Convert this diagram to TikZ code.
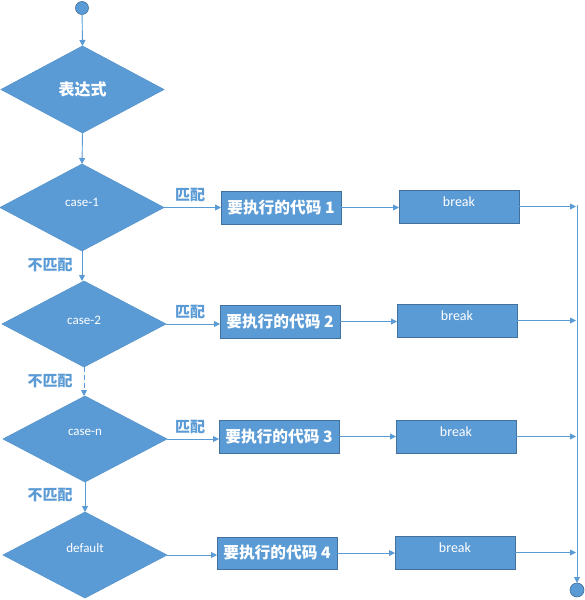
\documentclass[tikz,border=0pt]{standalone}
\usepackage{fontspec}
\setmainfont{Carlito}
\newfontfamily\cjk{Noto Sans CJK SC}
\usetikzlibrary{shapes.geometric,arrows.meta}
\definecolor{ofblue}{HTML}{5B9BD5}
\definecolor{ofedge}{HTML}{41719C}
\tikzset{
  decision/.style={diamond, fill=ofblue, draw=ofblue!85!ofedge, line width=0.6pt, inner sep=0pt, outer sep=0pt, minimum width=164pt, minimum height=86pt},
  codebox/.style={rectangle, fill=ofblue, draw=ofedge, line width=0.8pt, inner sep=0pt, outer sep=0pt, minimum width=120pt, minimum height=33pt, text=white, font=\cjk\bfseries\fontsize{15.7}{18}\selectfont},
  brkbox/.style={rectangle, fill=ofblue, draw=ofedge, line width=0.8pt, inner sep=0pt, outer sep=0pt, minimum width=120pt, minimum height=33pt},
  dtext/.style={text=white, font=\fontsize{13}{15}\selectfont, inner sep=0pt},
  btext/.style={text=white, font=\fontsize{14}{16}\selectfont, inner sep=0pt},
  term/.style={circle, fill=ofblue, draw=ofedge, line width=0.6pt, minimum size=13pt, inner sep=0pt, outer sep=0pt},
  lbl/.style={text=ofblue, font=\cjk\bfseries\fontsize{15}{17}\selectfont, inner sep=0pt},
  flow/.style={draw=ofblue, line width=0.9pt, -{Triangle[width=6pt,length=6pt]}},
  plain/.style={draw=ofblue, line width=0.9pt}
}
\begin{document}
\begin{tikzpicture}[x=1pt,y=-1pt]
\useasboundingbox[fill=white] (0,0) rectangle (585,600);
% nodes
\node[term] (start) at (82,8) {};
\node[decision, minimum width=163pt, minimum height=87pt, text=white, font=\cjk\bfseries\fontsize{16}{18}\selectfont] (expr) at (82.5,89.5) {表达式};
\node[decision, minimum height=87pt] (c1) at (82,207.5) {};
\node[decision] (c2) at (84,324) {};
\node[decision] (cn) at (85,439) {};
\node[decision] (df) at (85,555) {};
\node[dtext] (t1) at ([yshift=5pt]c1.center) {case-1};
\node[dtext] (t2) at ([yshift=4pt]c2.center) {case-2};
\node[dtext] (tn) at ([yshift=7pt]cn.center) {case-n};
\node[dtext] (td) at ([yshift=7pt]df.center) {default};

\node[codebox] (k1) at (281,207.5) {要执行的代码 1};
\node[codebox] (k2) at (280,321.5) {要执行的代码 2};
\node[codebox] (k3) at (279,436.5) {要执行的代码 3};
\node[codebox, minimum height=32pt] (k4) at (277,553) {要执行的代码 4};

\node[brkbox] (b1) at (459,206.5) {};
\node[brkbox] (b2) at (457,320.5) {};
\node[brkbox] (b3) at (456,436.5) {};
\node[brkbox] (b4) at (455,552.5) {};
\node[btext] (bt1) at ([yshift=5pt]b1.center) {break};
\node[btext] (bt2) at ([yshift=5pt]b2.center) {break};
\node[btext] (bt3) at ([yshift=5pt]b3.center) {break};
\node[btext] (bt4) at ([yshift=5pt]b4.center) {break};

\node[term, minimum size=14pt] (stop) at (577,590) {};
\coordinate (rtop) at (577,205);

\node[lbl] (m1) at (190,195) {匹配};
\node[lbl] (m2) at (190,312) {匹配};
\node[lbl] (m3) at (190,427) {匹配};
\node[lbl] (n1) at (50,265) {不匹配};
\node[lbl] (n2) at (50,381) {不匹配};
\node[lbl] (n3) at (50,495) {不匹配};

% connectors
\draw[flow] (start) -- (expr.north);
\draw[flow] (expr.south) -- (c1.north);
\draw[flow] (c1.south) -- (c1.south |- c2.north);
\draw[flow, dashed, dash pattern=on 5pt off 3pt] (c2.south) -- (c2.south |- cn.north);
\draw[flow] (cn.south) -- (df.north);

\draw[flow] (c1.east) -- (c1.east -| k1.west);
\draw[flow] (c2.east) -- (c2.east -| k2.west);
\draw[flow] (cn.east) -- (cn.east -| k3.west);
\draw[flow] (df.east) -- (df.east -| k4.west);

\draw[flow] (k1.east) -- (k1.east -| b1.west);
\draw[flow] (k2.east) -- (k2.east -| b2.west);
\draw[flow] (k3.east) -- (k3.east -| b3.west);
\draw[flow] (k4.east) -- (k4.east -| b4.west);

\draw[flow] (b1.east) -- ([xshift=-1pt]b1.east -| rtop);
\draw[flow] (b2.east) -- ([xshift=-1pt]b2.east -| rtop);
\draw[flow] (b3.east) -- ([xshift=-1pt]b3.east -| rtop);
\draw[flow] (b4.east) -- ([xshift=-1pt]b4.east -| rtop);

\draw[flow] (rtop) -- (stop.north);
\end{tikzpicture}
\end{document}
